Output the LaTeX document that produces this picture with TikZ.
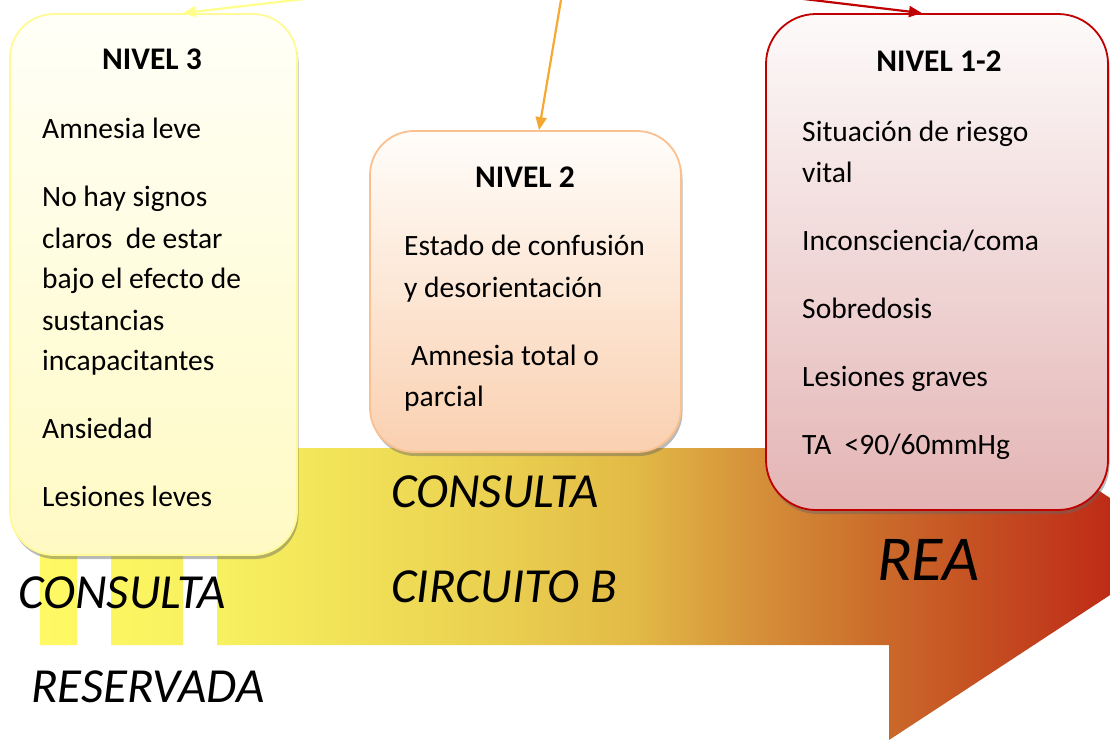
\documentclass[tikz,border=0pt]{standalone}
\usepackage{fontspec}
\setmainfont{Carlito}
\usetikzlibrary{arrows.meta,shadows}
\definecolor{s1}{RGB}{255,249,100}
\definecolor{s2}{RGB}{247,240,95}
\definecolor{s3}{RGB}{234,208,80}
\definecolor{s4}{RGB}{226,186,70}
\definecolor{s5}{RGB}{214,146,58}
\definecolor{s6}{RGB}{202,105,42}
\definecolor{s7}{RGB}{190,42,22}
\definecolor{yb}{RGB}{255,250,150}
\definecolor{ytop}{RGB}{255,255,248}
\definecolor{ybot}{RGB}{255,250,195}
\definecolor{ob}{RGB}{250,192,144}
\definecolor{otop}{RGB}{255,253,250}
\definecolor{obot}{RGB}{250,208,176}
\definecolor{rb}{RGB}{192,0,0}
\definecolor{rtop}{RGB}{253,250,250}
\definecolor{rbot}{RGB}{228,180,180}
\definecolor{yarrow}{RGB}{255,255,140}
\definecolor{oarrow}{RGB}{245,168,50}
\pgfdeclarehorizontalshading{arrowshade}{100bp}{color(0bp)=(s1); color(25bp)=(s1); color(33bp)=(s2); color(45bp)=(s3); color(51bp)=(s4); color(56bp)=(s5); color(62bp)=(s6); color(72bp)=(s7); color(100bp)=(s7)}
\tikzset{
  box/.style={rounded corners=44pt, line width=1.8pt, inner sep=0pt,
    drop shadow={shadow xshift=1.5pt, shadow yshift=-4pt, opacity=0.45, fill=black!60}},
  txt/.style={anchor=base west, inner sep=0pt, font=\fontsize{29.5}{35}\selectfont},
  ttl/.style={anchor=base, inner sep=0pt, font=\fontsize{31.5}{38}\selectfont\bfseries},
  big/.style={anchor=base west, inner sep=0pt, font=\fontsize{49}{58}\selectfont\itshape},
  huge/.style={anchor=base west, inner sep=0pt, font=\fontsize{64}{76}\selectfont\itshape},
  conn/.style={line width=2.2pt, -{Triangle[length=13pt,width=11pt]}}
}
\begin{document}
\begin{tikzpicture}[x=1pt,y=-1pt]
\useasboundingbox (0,0) rectangle (1110,740);
\begin{scope}
\clip (0,0) rectangle (1110,740);
% big arrow
\shade[shading=arrowshade]
  (217,448) -- (889,448) -- (889,353) -- (1184,546.5) -- (889,740) -- (889,645) -- (217,645) -- cycle
  (40,520) rectangle (77,645)
  (111,520) rectangle (183,645);
% boxes
\node[box, draw=yb, top color=ytop, bottom color=ybot, minimum width=287pt, minimum height=541pt] (b3) at (153.5,284.5) {};
\node[box, draw=ob, top color=otop, bottom color=obot, minimum width=311pt, minimum height=321pt] (b2) at (525.5,291.5) {};
\node[box, rounded corners=50pt, draw=rb, top color=rtop, bottom color=rbot, minimum width=342pt, minimum height=496pt] (b1) at (937,262) {};
% yellow box text
\node[ttl] (t3) at (152,69) {NIVEL 3};
\node[txt] (y1) at (42,138) {Amnesia leve};
\node[txt] (y2) at (42,206) {No hay signos};
\node[txt] (y3) at (42,248) {claros\ \ de estar};
\node[txt] (y4) at (42,288) {bajo el efecto de};
\node[txt] (y5) at (42,330) {sustancias};
\node[txt] (y6) at (42,370) {incapacitantes};
\node[txt] (y7) at (42,438) {Ansiedad};
\node[txt] (y8) at (42,506) {Lesiones leves};
% orange box text
\node[ttl] (t2) at (525,187) {NIVEL 2};
\node[txt] (o1) at (404,255) {Estado de confusión};
\node[txt] (o2) at (404,297) {y desorientación};
\node[txt] (o3) at (411,365) {Amnesia total o};
\node[txt] (o4) at (404,406) {parcial};
% red box text
\node[ttl] (t1) at (939,71) {NIVEL 1-2};
\node[txt] (r1) at (802,141) {Situación de riesgo};
\node[txt] (r2) at (802,182) {vital};
\node[txt] (r3) at (802,250) {Inconsciencia/coma};
\node[txt] (r4) at (802,318) {Sobredosis};
\node[txt] (r5) at (802,386) {Lesiones graves};
\node[txt] (r6) at (802,454) {TA\ \ <90/60mmHg};
% big labels
\node[big] (l1) at (18,608) {CONSULTA};
\node[big] (l2) at (31,702) {RESERVADA};
\node[big] (l3) at (391,507) {CONSULTA};
\node[big] (l4) at (391,602) {CIRCUITO B};
\node[huge] (l5) at (877,580) {REA};
% connectors from off-picture
\coordinate (ys) at (347,-6);
\coordinate (os) at (562,-6);
\coordinate (rs) at (762,-6);
\draw[conn, yarrow] (ys) -- ([xshift=29.5pt]b3.north);
\draw[conn, oarrow] (os) -- ([xshift=13.5pt]b2.north);
\draw[conn, rb] (rs) -- ([xshift=-15pt]b1.north);
\end{scope}
\end{tikzpicture}
\end{document}
